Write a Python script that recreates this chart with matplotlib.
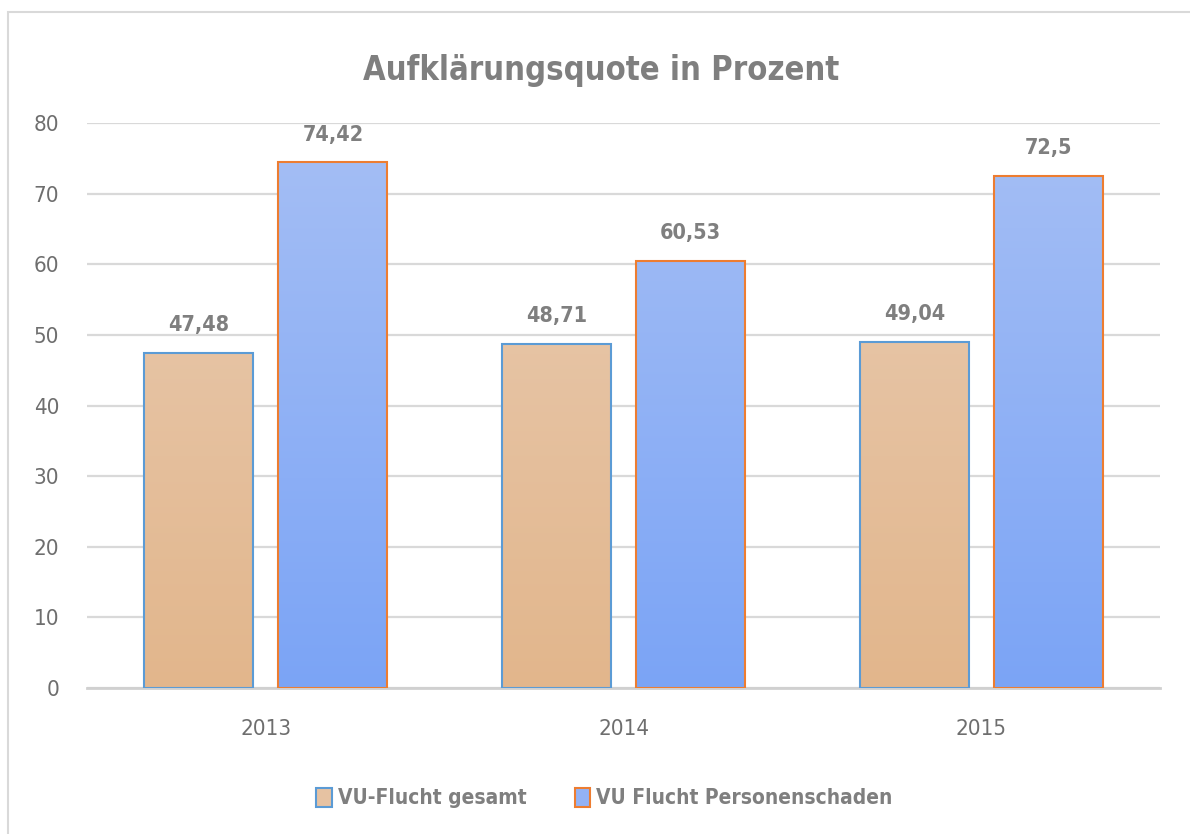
import matplotlib.pyplot as plt
import numpy as np
from matplotlib.colors import LinearSegmentedColormap
from matplotlib.patches import Rectangle

years = ["2013", "2014", "2015"]
gesamt = [47.48, 48.71, 49.04]
personen = [74.42, 60.53, 72.5]
gesamt_labels = ["47,48", "48,71", "49,04"]
personen_labels = ["74,42", "60,53", "72,5"]
series_names = ["VU-Flucht gesamt", "VU Flucht Personenschaden"]

plt.rcParams['font.family'] = ['DejaVu Sans']
plt.rcParams['font.stretch'] = 'condensed'
grey = "#7f7f7f"

fig = plt.figure(figsize=(11.9, 8.34), dpi=100)
ax = fig.add_axes([0.073, 0.175, 0.902, 0.6775])

# chart border
fig.patches.append(Rectangle((8 / 1190, -0.02), 1.1, 1 - 12 / 834 + 0.02,
                             transform=fig.transFigure, fill=False,
                             edgecolor="#d9d9d9", linewidth=1.5))

x = np.arange(len(years))
w = 0.305
gap = 0.07
off = (w + gap) / 2

cm_orange = LinearSegmentedColormap.from_list("o", ["#e2b68c", "#e9ccb3"])
cm_blue = LinearSegmentedColormap.from_list("b", ["#7ba4f6", "#a6bff4"])

b1 = ax.bar(x - off, gesamt, w, color="#e6c2a2", edgecolor="#5b9bd5",
            linewidth=1.5, label=series_names[0], zorder=3)
b2 = ax.bar(x + off, personen, w, color="#93b2f5", edgecolor="#ed7d31",
            linewidth=1.5, label=series_names[1], zorder=3)

grad = np.linspace(0, 1, 256).reshape(-1, 1)
for bars, cmap in ((b1, cm_orange), (b2, cm_blue)):
    for bar in bars:
        x0, y0 = bar.get_x(), bar.get_y()
        bw, bh = bar.get_width(), bar.get_height()
        im = ax.imshow(grad, cmap=cmap, origin="lower", aspect="auto",
                       extent=[x0, x0 + bw, y0, y0 + 80], zorder=3.5)
        im.set_clip_path(bar)
        bar.set_facecolor("none")
        bar.set_zorder(4)

for i in range(len(years)):
    ax.text(x[i] - off, gesamt[i] + 2.5, gesamt_labels[i], ha="center",
            va="bottom", fontsize=15.5, fontweight="bold", color=grey)
    ax.text(x[i] + off, personen[i] + 2.5, personen_labels[i], ha="center",
            va="bottom", fontsize=15.5, fontweight="bold", color=grey)

ax.set_xlim(-0.5, 2.5)
ax.set_ylim(0, 80)
ax.set_yticks(range(0, 81, 10))
ax.set_xticks(x)
ax.set_xticklabels(years)
ax.tick_params(axis="both", length=0, labelsize=16, colors="#6e6e6e")
ax.tick_params(axis="y", pad=20)
ax.tick_params(axis="x", pad=22)
ax.grid(axis="y", color="#d9d9d9", linewidth=1.6, zorder=0)
ax.set_axisbelow(True)
for s in ["top", "right", "left"]:
    ax.spines[s].set_visible(False)
ax.spines["bottom"].set_color("#d0d0d0")
ax.spines["bottom"].set_linewidth(2)

fig.text(0.505, 0.915, "Aufklärungsquote in Prozent", ha="center",
         va="center", fontsize=23.5, fontweight="bold", color=grey)

h = [Rectangle((0, 0), 1, 1, facecolor="#e6c2a2", edgecolor="#5b9bd5", linewidth=1.5),
     Rectangle((0, 0), 1, 1, facecolor="#93b2f5", edgecolor="#ed7d31", linewidth=1.5)]
leg = fig.legend(h, series_names, loc="center", bbox_to_anchor=(0.508, 0.043),
                 ncol=2, frameon=False, handlelength=0.75, handleheight=1.0,
                 handletextpad=0.3, columnspacing=2.3,
                 prop={"size": 15, "weight": "bold"})
for t in leg.get_texts():
    t.set_color(grey)

fig.savefig("out.png", dpi=100)
